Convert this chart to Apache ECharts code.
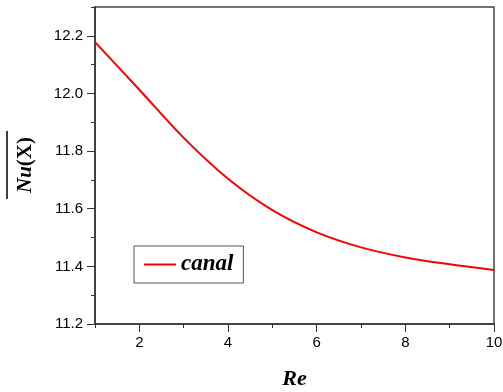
<!DOCTYPE html>
<html>
<head>
<meta charset="utf-8">
<script src="https://cdn.jsdelivr.net/npm/echarts@6/dist/echarts.min.js"></script>
<style>html,body{margin:0;padding:0;background:#fff}#c{width:503px;height:392px}</style>
</head>
<body>
<div id="c"></div>
<script>
var reValues = [1, 2, 3, 4, 5, 6, 7, 8, 9, 10];
var nuCanal = [12.178, 12.013, 11.846, 11.704, 11.595, 11.518, 11.466, 11.431, 11.407, 11.387];
var yMajorTicks = [11.2, 11.4, 11.6, 11.8, 12.0, 12.2];
var xMajorTicks = [2, 4, 6, 8, 10];
var seriesName = 'canal';

var chart = echarts.init(document.getElementById('c'), null, {renderer: 'canvas'});
var labelFont = {fontFamily: 'Liberation Sans', fontSize: 15, color: '#000'};
var serif = 'Liberation Serif';
var data = reValues.map(function (x, i) { return [x, nuCanal[i]]; });

chart.setOption({
  animation: false,
  backgroundColor: '#fff',
  grid: {left: 95, right: 9, top: 7, bottom: 68, outerBoundsMode: 'none', containLabel: false,
         show: true, borderColor: '#444', borderWidth: 1.5, backgroundColor: 'transparent'},
  legend: {
    left: 134, top: 246, orient: 'horizontal',
    padding: [7, 10, 7, 10],
    borderColor: '#555', borderWidth: 1,
    itemWidth: 32, itemHeight: 2, itemGap: 5,
    icon: 'rect',
    textStyle: {fontFamily: serif, fontSize: 23, fontWeight: 'bold', fontStyle: 'italic', color: '#000'},
    data: [seriesName]
  },
  xAxis: [{
    type: 'value', min: 1, max: 10, interval: 1,
    name: 'Re', nameLocation: 'middle', nameGap: 44,
    nameTextStyle: {fontFamily: serif, fontSize: 22, fontWeight: 'bold', fontStyle: 'italic', color: '#000'},
    axisLine: {show: true, lineStyle: {color: '#333', width: 1.5}},
    axisTick: {show: true, inside: false, length: 4, lineStyle: {color: '#333', width: 1}},
    axisLabel: Object.assign({margin: 11, formatter: function (v) { return (Math.round(v) % 2 === 0) ? String(Math.round(v)) : ''; }}, labelFont),
    splitLine: {show: false}
  }, {
    type: 'value', min: 1, max: 10, position: 'bottom',
    axisLine: {show: false},
    axisTick: {show: true, inside: false, length: 8, customValues: xMajorTicks, lineStyle: {color: '#333', width: 1}},
    axisLabel: {show: false},
    splitLine: {show: false}
  }],
  yAxis: [{
    type: 'value', min: 11.2, max: 12.3, interval: 0.1,
    axisLine: {show: true, lineStyle: {color: '#333', width: 1.5}},
    axisTick: {show: true, inside: false, length: 4, lineStyle: {color: '#333', width: 1}},
    axisLabel: Object.assign({margin: 12, formatter: function (v) {
      var k = Math.round(v * 10);
      return (k % 2 === 0 && k <= 122) ? (k / 10).toFixed(1) : '';
    }}, labelFont),
    splitLine: {show: false}
  }, {
    type: 'value', min: 11.2, max: 12.3, position: 'left',
    axisLine: {show: false},
    axisTick: {show: true, inside: false, length: 8, customValues: yMajorTicks, lineStyle: {color: '#333', width: 1}},
    axisLabel: {show: false},
    splitLine: {show: false}
  }],
  graphic: [{
    type: 'text', x: 26, y: 165, rotation: Math.PI / 2,
    style: {
      text: '{a|Nu}{b|(X)}', align: 'center', verticalAlign: 'middle',
      rich: {
        a: {fontFamily: serif, fontSize: 21, fontWeight: 'bold', fontStyle: 'italic', fill: '#000'},
        b: {fontFamily: serif, fontSize: 21, fontWeight: 'bold', fill: '#000'}
      }
    }
  }, {
    type: 'line', shape: {x1: 7, y1: 131, x2: 7, y2: 199}, style: {stroke: '#000', lineWidth: 1.5}
  }],
  series: [{
    name: seriesName, type: 'line', data: data,
    smooth: 0.35,
    symbol: 'none', showSymbol: false,
    lineStyle: {color: '#ff0000', width: 2},
    itemStyle: {color: '#ff0000'},
    xAxisIndex: 0, yAxisIndex: 0
  }]
});
</script>
</body>
</html>
